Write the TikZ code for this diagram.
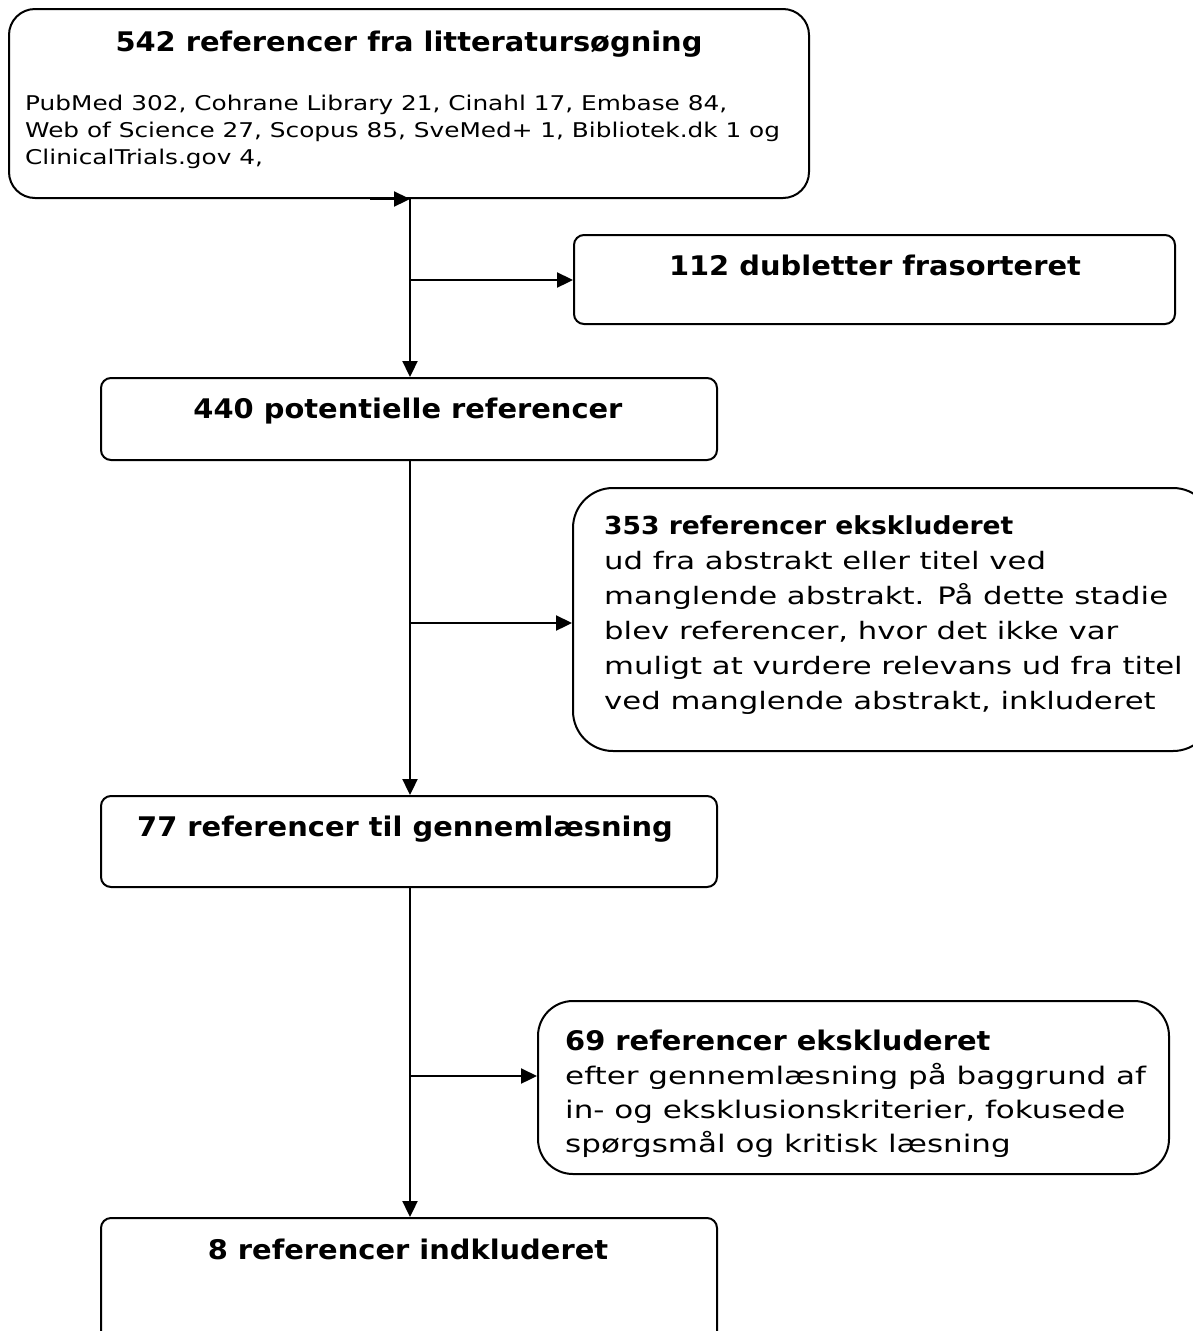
\documentclass[tikz,border=0pt]{standalone}
\usepackage{fontspec}
\setmainfont{DejaVu Sans}
\newfontfamily\bfnt{DejaVu Sans Bold}[FakeStretch=1.07]
\newfontfamily\rfnt{DejaVu Sans}[FakeStretch=1.22]
\newfontfamily\wfnt{DejaVu Sans}[FakeStretch=1.28]
\usetikzlibrary{arrows.meta}
\begin{document}
\begin{tikzpicture}[x=1pt,y=-1pt,
  box/.style={draw, line width=2pt, rounded corners=#1, inner sep=0pt, anchor=north west},
  arr/.style={line width=2.3pt, -{Triangle[length=16pt,width=15pt]}},
  ttl/.style={font={\bfnt\fontsize{27}{27}\selectfont}, inner sep=0pt, text height=19.7pt, text depth=0pt},
  bodytxt/.style={align=left, inner sep=0pt, anchor=north west}]
\useasboundingbox[fill=white] (0,0) rectangle (1192,1331);

% boxes
\node[box=26pt, minimum width=800pt, minimum height=189pt] (top) at (8,8) {};
\node[box=10pt, minimum width=601pt, minimum height=89pt] (dub) at (573,234) {};
\node[box=10pt, minimum width=616pt, minimum height=82pt] (pot) at (100,377) {};
\node[box=40pt, minimum width=640pt, minimum height=263pt] (exc1) at (572,487) {};
\node[box=10pt, minimum width=616pt, minimum height=91pt] (gen) at (100,795) {};
\node[box=35pt, minimum width=631pt, minimum height=173pt] (exc2) at (537,1000) {};
\node[box=10pt, minimum width=616pt, minimum height=140pt] (inc) at (100,1217) {};

% texts
\node[ttl] (t1) at (409,42) {542 referencer fra litteratursøgning};
\node[bodytxt, font={\rfnt\fontsize{20.3}{27}\selectfont}] (t1b) at (25,95)
  {PubMed 302, Cohrane Library 21, Cinahl 17, Embase 84,\\
   Web of Science 27, Scopus 85, SveMed+ 1, Bibliotek.dk 1 og\\
   ClinicalTrials.gov 4,};
\node[ttl] (t2) at (875,266) {112 dubletter frasorteret};
\node[ttl] (t3) at (408,409) {440 potentielle referencer};
\node[bodytxt, font={\wfnt\fontsize{24}{35}\selectfont}] (t4) at (604,515)
  {{\bfnt\fontsize{24.8}{35}\selectfont 353 referencer ekskluderet}\\
   ud fra abstrakt eller titel ved\\
   manglende abstrakt. På dette stadie\\
   blev referencer, hvor det ikke var\\
   muligt at vurdere relevans ud fra titel\\
   ved manglende abstrakt, inkluderet};
\node[ttl] (t5) at (405,827) {77 referencer til gennemlæsning};
\node[bodytxt, font={\wfnt\fontsize{24.2}{34}\selectfont}] (t6) at (565,1030)
  {{\bfnt\fontsize{27}{34}\selectfont 69 referencer ekskluderet}\\
   efter gennemlæsning på baggrund af\\
   in- og eksklusionskriterier, fokusede\\
   spørgsmål og kritisk læsning};
\node[ttl] (t7) at (408,1250) {8 referencer indkluderet};

% connectors
\coordinate (tx) at (410,0);
\draw[arr] ([xshift=-40pt]top.south -| tx) -- (top.south -| tx);
\draw[arr] (top.south -| tx) -- (pot.north -| tx);
\coordinate (j1) at (410,280);
\draw[arr] (j1) -- (dub.west |- j1);
\draw[arr] (pot.south -| tx) -- (gen.north -| tx);
\coordinate (j2) at (410,623);
\draw[arr] (j2) -- (exc1.west |- j2);
\draw[arr] (gen.south -| tx) -- (inc.north -| tx);
\coordinate (j3) at (410,1076);
\draw[arr] (j3) -- (exc2.west |- j3);
\end{tikzpicture}
\end{document}
